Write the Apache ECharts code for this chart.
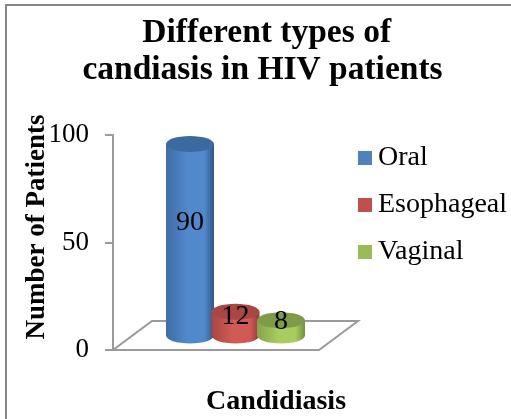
<!DOCTYPE html>
<html>
<head>
<meta charset="utf-8">
<title>Different types of candiasis in HIV patients</title>
<style>
    html, body { margin: 0; padding: 0; background: #fff; }
    #chart { width: 511px; height: 419px; }
</style>
<script src="https://cdn.jsdelivr.net/npm/echarts@6/dist/echarts.min.js"></script>
</head>
<body>
<div id="chart"></div>
<script>
const categories = ["Candidiasis"];
const seriesNames = ["Oral", "Esophageal", "Vaginal"];
const seriesValues = [90, 12, 8];
const yTicks = [0, 50, 100];

const FONT = '"Liberation Serif", "Times New Roman", serif';
const AXIS_GRAY = "#9a9a9a";

// body gradient stops, top face, legend swatch
const SERIES_COLORS = [
    { edgeL: "#3f6ca6", mid: "#5289cc", edgeR: "#2f5685", top: "#3d6a9e", swatch: "#4f81bd" },
    { edgeL: "#a84643", mid: "#d25a56", edgeR: "#8f3b39", top: "#a94744", swatch: "#c0504d" },
    { edgeL: "#86a34c", mid: "#a9cc5f", edgeR: "#748d41", top: "#7f9b48", swatch: "#9bbb59" }
];

// fake 3D: floor depth in px, cylinder geometry
const DEPTH_X = 39;
const DEPTH_Y = 29;
const CYL_RX = 24;
const CYL_RY = 8;
const CYL_PITCH = 45.5;

function renderFloor(params, api) {
    const p0 = api.coord([0, 0]);
    const halfBand = api.size([1, 0])[0] / 2;
    const x0 = p0[0] - halfBand;
    const x1 = p0[0] + halfBand;
    const y = p0[1];
    return {
        type: "polygon",
        shape: { points: [[x0, y], [x1, y], [x1 + DEPTH_X, y - DEPTH_Y], [x0 + DEPTH_X, y - DEPTH_Y]] },
        style: { fill: "#fff", stroke: AXIS_GRAY, lineWidth: 2 },
        silent: true
    };
}

function makeCylinder(idx) {
    return function (params, api) {
        const value = api.value(1);
        const base = api.coord([0, 0]);
        const top = api.coord([0, value]);
        const labelAt = api.coord([0, value * 0.56]);
        const cx = base[0] + DEPTH_X / 2 + (idx - 1) * CYL_PITCH;
        const by = base[1] - DEPTH_Y / 2;
        const ty = top[1] - 12.5;
        const c = SERIES_COLORS[idx];
        const body = new echarts.graphic.LinearGradient(0, 0, 1, 0, [
            { offset: 0, color: c.edgeL },
            { offset: 0.45, color: c.mid },
            { offset: 0.8, color: c.mid },
            { offset: 1, color: c.edgeR }
        ]);
        return {
            type: "group",
            children: [
                {
                    type: "rect",
                    shape: { x: cx - CYL_RX, y: ty, width: CYL_RX * 2, height: by - ty },
                    style: { fill: body }
                },
                {
                    type: "ellipse",
                    shape: { cx: cx, cy: by, rx: CYL_RX, ry: CYL_RY },
                    style: { fill: body }
                },
                {
                    type: "ellipse",
                    shape: { cx: cx, cy: ty, rx: CYL_RX, ry: CYL_RY },
                    style: { fill: c.top }
                },
                {
                    type: "text",
                    style: {
                        text: String(value),
                        x: cx,
                        y: labelAt[1] - 19,
                        align: "center",
                        verticalAlign: "middle",
                        font: "28px " + FONT,
                        fill: "#000"
                    }
                }
            ]
        };
    };
}

const series = [{
    name: "floor",
    type: "custom",
    renderItem: renderFloor,
    data: [[0, 0]],
    silent: true,
    z: 1
}];
seriesNames.forEach((name, i) => {
    series.push({
        name: name,
        type: "custom",
        renderItem: makeCylinder(i),
        encode: { x: 0, y: 1 },
        data: [[0, seriesValues[i]]],
        itemStyle: { color: SERIES_COLORS[i].swatch },
        z: 2 + i
    });
});

const chart = echarts.init(document.getElementById("chart"), null, { renderer: "canvas" });
chart.setOption({
    animation: false,
    backgroundColor: "#fff",
    textStyle: { fontFamily: FONT },
    grid: { left: 113, top: 135, width: 206, height: 215 },
    title: {
        // leading space nudges the first line right, as in the original
        text: " Different types of\ncandiasis in HIV patients",
        left: 257.5,
        top: 10,
        textAlign: "center",
        textStyle: { fontFamily: FONT, fontSize: 33.5, fontWeight: "bold", color: "#000", lineHeight: 37 }
    },
    legend: {
        data: seriesNames,
        orient: "vertical",
        left: 358,
        top: 142,
        padding: 0,
        icon: "rect",
        itemWidth: 14,
        itemHeight: 14,
        itemGap: 15,
        itemStyle: { borderWidth: 0 },
        textStyle: { fontFamily: FONT, fontSize: 28, color: "#000", padding: [0, 0, 0, 1], lineHeight: 32 }
    },
    xAxis: {
        type: "category",
        data: categories,
        axisLine: { show: false },
        axisTick: { show: false },
        axisLabel: { show: false }
    },
    yAxis: {
        type: "value",
        min: yTicks[0],
        max: yTicks[yTicks.length - 1],
        interval: yTicks[1] - yTicks[0],
        splitLine: { show: false },
        axisLine: { show: true, lineStyle: { color: AXIS_GRAY, width: 2 } },
        axisTick: { show: true, length: 8, lineStyle: { color: AXIS_GRAY, width: 2 } },
        axisLabel: { fontFamily: FONT, fontSize: 27, color: "#000", margin: 24, padding: [4, 0, 0, 0] }
    },
    graphic: [
        {
            type: "rect",
            z: -1,
            shape: { x: 6, y: 5, width: 520, height: 430 },
            style: { fill: "none", stroke: "#868686", lineWidth: 2 },
            silent: true
        },
        {
            type: "text",
            rotation: Math.PI / 2,
            x: 37,
            y: 227,
            style: {
                text: "Number of Patients",
                align: "center",
                verticalAlign: "middle",
                font: "bold 27px " + FONT,
                fill: "#000"
            }
        },
        {
            type: "text",
            x: 276,
            y: 402,
            style: {
                text: categories[0],
                align: "center",
                verticalAlign: "middle",
                font: "bold 28px " + FONT,
                fill: "#000"
            }
        }
    ],
    series: series
});
</script>
</body>
</html>
